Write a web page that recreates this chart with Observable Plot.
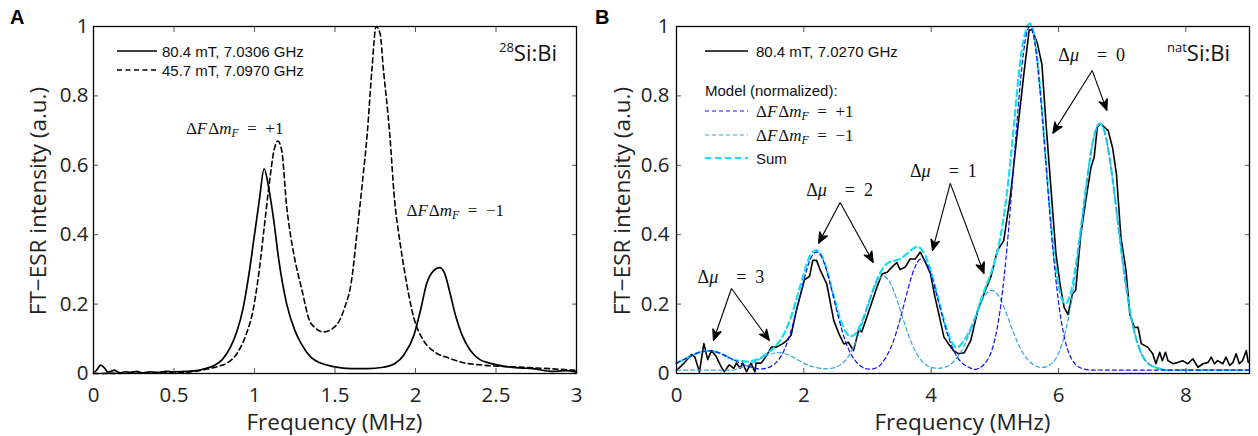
<!DOCTYPE html>
<html><head><meta charset="utf-8">
<script src="https://cdn.jsdelivr.net/npm/d3@7"></script>
<script src="https://cdn.jsdelivr.net/npm/@observablehq/plot@0.6"></script>
<style>
body{margin:0;background:#fff;}
#wrap{position:relative;width:1258px;height:436px;font-family:"Open Sans",sans-serif;}
#wrap > svg{position:absolute;top:0;overflow:visible;}
</style></head><body><div id="wrap"></div>
<script>
// ---------- Panel A data (28Si:Bi) ----------
const solidFreq = [0,0.02,0.045,0.07,0.09,0.11,0.13,0.15,0.17,0.2,0.23,0.27,0.3,0.35,0.4,0.45,0.5,0.58,0.65,0.7,0.75,0.8,0.85,0.89,0.93,0.97,1.0,1.03,1.06,1.09,1.12,1.15,1.2,1.25,1.29,1.35,1.41,1.49,1.6,1.7,1.8,1.87,1.93,1.99,2.03,2.07,2.11,2.15,2.18,2.21,2.25,2.29,2.34,2.4,2.46,2.56,2.65,2.73,2.85,2.93,3];
const solidVal  = [0,0.01,0.024,0.015,0.004,0.006,0.01,0.004,0.002,0.005,0.003,0.006,0.002,0.005,0.003,0.006,0.005,0.006,0.009,0.015,0.023,0.04,0.075,0.12,0.19,0.3,0.4,0.5,0.59,0.53,0.44,0.33,0.2,0.125,0.086,0.047,0.03,0.02,0.014,0.014,0.018,0.028,0.055,0.11,0.18,0.26,0.295,0.305,0.29,0.24,0.165,0.11,0.067,0.04,0.03,0.02,0.016,0.014,0.006,0.008,0.004];
const dashFreq = [0,0.3,0.5,0.58,0.7,0.77,0.83,0.89,0.95,0.99,1.03,1.06,1.09,1.12,1.145,1.17,1.2,1.22,1.25,1.29,1.35,1.43,1.51,1.56,1.6,1.64,1.67,1.7,1.73,1.755,1.78,1.8,1.84,1.87,1.9,1.93,1.99,2.05,2.11,2.21,2.31,2.42,2.62,2.83,3];
const dashVal  = [0,0.001,0.002,0.004,0.012,0.02,0.03,0.057,0.115,0.18,0.3,0.42,0.54,0.64,0.67,0.64,0.48,0.41,0.33,0.25,0.145,0.12,0.14,0.19,0.26,0.42,0.55,0.69,0.88,1.0,0.98,0.88,0.69,0.5,0.39,0.3,0.16,0.095,0.065,0.044,0.03,0.024,0.019,0.014,0.009];
const legendA = ["80.4 mT, 7.0306 GHz","45.7 mT, 7.0970 GHz"];
const labelsA = ["+1","\u22121"];
const labelsAx = [0.88, 2.25];
const labelsAy = [0.706, 0.47];

// ---------- Panel B data (natSi:Bi) ----------
const dataFreq = [0,0.03,0.12,0.235,0.29,0.36,0.43,0.49,0.55,0.62,0.7,0.75,0.83,0.9,0.94,1.0,1.04,1.1,1.17,1.23,1.25,1.33,1.41,1.49,1.57,1.67,1.73,1.8,1.88,2.01,2.09,2.14,2.2,
 2.26,2.36,2.47,2.55,2.63,2.7,2.78,2.86,2.91,2.99,3.07,3.15,3.23,3.31,3.38,3.46,3.51,3.59,3.67,3.75,3.83,3.91,3.99,4.06,4.12,4.2,4.27,4.35,4.43,
 4.52,4.62,4.73,4.83,4.94,5.04,5.14,5.25,5.35,5.46,5.54,5.59,5.67,5.74,5.8,5.88,5.96,6.03,6.09,6.15,6.22,6.27,6.35,6.43,6.51,6.56,6.61,6.66,
 6.78,6.85,6.91,6.98,7.06,7.12,7.19,7.25,7.3,7.4,7.48,7.53,7.59,7.63,7.68,7.72,7.8,7.87,7.95,8.03,8.11,8.19,8.27,8.35,8.4,8.45,8.5,8.58,8.63,8.69,8.74,8.79,8.84,8.89,8.95,8.98];
const dataVal = [0.01,0.014,0.03,0.055,0.047,0.004,0.086,0.04,0.066,0.05,0.02,0.005,0.025,0.015,0.03,0.015,0.03,0.005,0.03,0.005,0.03,0.03,0.05,0.076,0.076,0.086,0.095,0.11,0.18,0.27,0.28,0.326,0.326,
 0.297,0.258,0.153,0.115,0.085,0.09,0.066,0.124,0.12,0.163,0.206,0.25,0.287,0.292,0.306,0.32,0.3,0.306,0.33,0.33,0.35,0.32,0.287,0.22,0.172,0.105,0.086,0.066,0.057,
 0.06,0.094,0.18,0.23,0.28,0.354,0.383,0.52,0.69,0.87,0.99,0.99,0.95,0.89,0.73,0.537,0.345,0.25,0.19,0.17,0.23,0.24,0.4,0.5,0.594,0.623,0.71,0.72,
 0.7,0.65,0.575,0.393,0.297,0.172,0.133,0.133,0.086,0.076,0.057,0.028,0.061,0.037,0.061,0.037,0.028,0.032,0.037,0.028,0.042,0.018,0.028,0.032,0.047,0.028,0.037,0.028,0.047,0.023,0.032,0.057,0.028,0.037,0.066,0.032];

const modelFreq = [0,0.1,0.2,0.3,0.4,0.5,0.6,0.7,0.8,0.9,1.0,1.1,1.2,1.3,1.4,1.5,1.6,1.7,1.8,1.9,2.0,2.1,2.2,2.3,2.4,2.5,2.6,2.7,2.8,2.9,3.0,3.1,3.2,3.3,3.4,3.5,3.6,3.7,3.8,3.9,4.0,4.1,4.2,4.3,4.4,4.5,4.6,4.7,4.8,4.9,5.0,5.1,5.2,5.3,5.4,5.5,5.6,5.7,5.8,5.9,6.0,6.1,6.2,6.3,6.4,6.5,6.6,6.7,6.8,6.9,7.0,7.1,7.2,7.3,7.4,7.5,7.6,7.7,7.8,7.9,8.0,8.1,8.2,8.3,8.4,8.5,8.6,8.7,8.8,8.9,9.0];
const modelPlus = [0.030,0.039,0.048,0.057,0.063,0.065,0.063,0.057,0.048,0.039,0.030,0.022,0.017,0.013,0.015,
 0.022,0.039,0.071,0.124,0.194,0.268,0.328,0.350,0.328,0.268,0.194,0.124,0.071,0.039,0.020,
 0.013,0.014,0.024,0.050,0.090,0.148,0.218,0.284,0.325,0.325,0.284,0.218,0.148,0.090,0.050,
 0.028,0.017,0.012,0.021,0.044,0.098,0.206,0.381,0.611,0.837,0.980,0.980,0.837,0.611,0.381,
 0.206,0.098,0.044,0.021,0.013,
 0.010,0.010,0.010,0.010,0.010,0.010,0.010,0.010,0.010,0.010,0.010,0.010,0.010,0.010,0.010,0.010,0.010,0.010,0.010,0.010,0.010,0.010,0.010,0.010,0.010,0.010];
const modelMinus = [0.010,0.010,0.010,0.010,0.010,0.010,0.010,0.010,0.010,0.010,
 0.017,0.022,0.030,0.040,0.050,0.057,0.060,0.057,0.050,0.040,
 0.030,0.022,0.017,0.014,0.014,0.018,0.028,0.049,0.084,0.134,
 0.191,0.244,0.276,0.276,0.244,0.191,0.134,0.084,0.049,0.028,
 0.018,0.015,0.017,0.026,0.044,0.073,0.115,0.164,0.210,0.236,
 0.236,0.210,0.164,0.115,0.073,0.044,0.026,0.018,0.019,0.030,
 0.058,0.114,0.205,0.335,0.486,0.625,0.709,0.709,0.625,0.486,
 0.335,0.205,0.114,0.058,0.030,0.019,0.013,0.010,0.010,0.010,
 0.010,0.010,0.010,0.010,0.010,0.010,0.010,0.010,0.010,0.010,0.010];
const modelSum = [0.030,0.039,0.048,0.057,0.063,0.065,0.063,0.057,0.048,0.039,
 0.037,0.034,0.037,0.043,0.055,0.069,0.089,0.118,0.164,0.224,
 0.288,0.340,0.355,0.332,0.272,0.202,0.142,0.110,0.113,0.144,
 0.194,0.248,0.290,0.316,0.324,0.329,0.342,0.358,0.364,0.343,
 0.292,0.223,0.155,0.100,0.075,0.091,0.122,0.166,0.221,0.270,
 0.324,0.406,0.535,0.716,0.900,0.995,0.990,0.845,0.620,0.401,
 0.254,0.202,0.239,0.346,0.489,0.625,0.709,0.709,0.625,0.486,
 0.335,0.205,0.114,0.058,0.030,0.019,0.013,0.010,0.010,0.010,
 0.010,0.010,0.010,0.010,0.010,0.010,0.010,0.010,0.010,0.010,0.010];
const legendB = ["80.4 mT, 7.0270 GHz","Model (normalized):","+1","\u22121","Sum"];
const muLabels = ["0","1","2","3"];
const muLabelX = [6.53,4.20,2.57,0.863];
const muLabelY = [0.916,0.582,0.527,0.277];
const arrowX1 = [6.53,6.53,4.30,4.30,2.57,2.57,0.863,0.863];
const arrowY1 = [0.873,0.873,0.548,0.548,0.493,0.493,0.245,0.245];
const arrowX2 = [5.91,6.76,4.02,4.83,2.23,3.09,0.58,1.46];
const arrowY2 = [0.692,0.758,0.354,0.288,0.375,0.32,0.095,0.095];

const yTicks = [0,0.2,0.4,0.6,0.8,1];
const xTicksA = [0,0.5,1,1.5,2,2.5,3];
const xTicksB = [0,2,4,6,8];

// ---------- helpers ----------
const FONT = '"Open Sans", sans-serif';
const LEGFONT = '"Liberation Sans", Arial, sans-serif';
const SERIF = '"Liberation Serif", "DejaVu Serif", serif';
const fmt = d => String(d);
const BLUE = "#1010f0", LBLUE = "#2ea6e6", CYAN = "#10e0f0";
const rows = (xs, ys) => xs.map((x, i) => ({x, y: ys[i]}));

const headMarker = (color, context) => {
  const m = d3.create("svg:marker")
    .attr("viewBox", "-12 -6 13 12").attr("markerWidth", 13).attr("markerHeight", 12)
    .attr("markerUnits", "userSpaceOnUse").attr("orient", "auto").attr("refX", 0).attr("refY", 0);
  m.append("path").attr("d", "M-11,-4.5L0,0L-11,4.5L-8,0Z").attr("fill", "#000");
  return m.node();
};

function axes(xTicks, padY) {
  return [
    Plot.axisX({anchor: "bottom", ticks: xTicks, tickFormat: fmt, tickSize: -5, tickPadding: 19, label: null, stroke: "#555", fill: "#222"}),
    Plot.axisX({anchor: "top", ticks: xTicks, tickFormat: () => "", tickSize: -5, label: null, stroke: "#555"}),
    Plot.axisY({anchor: "left", ticks: yTicks, tickFormat: fmt, tickSize: -5, tickPadding: padY, label: null, stroke: "#555", fill: "#222"}),
    Plot.axisY({anchor: "right", ticks: yTicks, tickFormat: () => "", tickSize: -5, label: null, stroke: "#555"}),
    Plot.frame({stroke: "#000", strokeWidth: 1.3})
  ];
}
const common = {height: 436, marginTop: 26, marginBottom: 63,
  style: {fontFamily: FONT, fontSize: "20.5px", background: "transparent", overflow: "visible"},
  y: {domain: [0, 1]}};

function mathF(sel, x, y, value, size, anchor) {
  const t = sel.append("text").attr("x", x).attr("y", y).attr("text-anchor", anchor)
    .attr("dominant-baseline", "central").style("font-family", SERIF).style("font-size", size + "px").attr("fill", "#111");
  t.append("tspan").text("\u0394");
  t.append("tspan").attr("font-style", "italic").text("F");
  t.append("tspan").attr("dx", 1).text("\u0394");
  t.append("tspan").attr("font-style", "italic").text("m");
  t.append("tspan").attr("font-style", "italic").attr("font-size", (size * 0.7) + "px").attr("dy", size * 0.28).text("F");
  t.append("tspan").attr("dy", -size * 0.28).text("\u2002=\u2002" + value);
}
function mathMu(sel, x, y, value, size) {
  const t = sel.append("text").attr("x", x).attr("y", y).attr("text-anchor", "middle")
    .attr("dominant-baseline", "central").style("font-family", SERIF).style("font-size", size + "px").attr("fill", "#111");
  t.append("tspan").text("\u0394");
  t.append("tspan").attr("font-style", "italic").text("\u03bc");
  t.append("tspan").text("\u2003=\u2002" + value);
}
function plainText(sel, x, y, s, size, anchor = "start", extra = {}) {
  const t = sel.append("text").attr("x", x).attr("y", y).attr("text-anchor", anchor)
    .attr("dominant-baseline", extra.baseline || "central").style("font-family", extra.font || FONT).style("font-size", size + "px")
    .attr("fill", extra.fill || "#111").text(s);
  if (extra.weight) t.style("font-weight", extra.weight);
  if (extra.rotate) t.attr("transform", `rotate(-90 ${x} ${y})`);
  return t;
}
function isotope(sel, xEnd, yBase, sup) {
  const t = sel.append("text").attr("x", xEnd).attr("y", yBase).attr("text-anchor", "end")
    .style("font-family", FONT).attr("fill", "#111");
  t.append("tspan").style("font-size", "13px").attr("dy", -9).text(sup);
  t.append("tspan").style("font-size", "22px").attr("dy", 9).text("Si:Bi");
}

const wrap = document.getElementById("wrap");

// ---------- Panel A ----------
const plotA = Plot.plot({
  ...common, width: 580, marginLeft: 93, marginRight: 4,
  x: {domain: [0, 3]},
  marks: [
    Plot.line(rows(dashFreq, dashVal), {x: "x", y: "y", stroke: "#000", strokeWidth: 1.6, strokeDasharray: "5,3.5", curve: "monotone-x"}),
    Plot.line(rows(solidFreq, solidVal), {x: "x", y: "y", stroke: "#000", strokeWidth: 1.7, curve: "monotone-x"}),
    ...axes(xTicksA, 10)
  ]
});
plotA.style.left = "0px";
wrap.appendChild(plotA);
{
  const s = d3.select(plotA);
  const xs = plotA.scale("x"), ys = plotA.scale("y");
  plainText(s, 10, 24, "A", 20, "start", {baseline: "auto", weight: "bold", fill: "#000", font: LEGFONT});
  plainText(s, 37.5, 201, "FT\u2212ESR intensity (a.u.)", 22.5, "middle", {rotate: true, fill: "#222"});
  plainText(s, 334.5, 430, "Frequency (MHz)", 22.5, "middle", {baseline: "auto", fill: "#222"});
  s.append("line").attr("x1", 117).attr("x2", 157).attr("y1", 51).attr("y2", 51).attr("stroke", "#000").attr("stroke-width", 1.7);
  s.append("line").attr("x1", 117).attr("x2", 157).attr("y1", 70).attr("y2", 70).attr("stroke", "#000").attr("stroke-width", 1.6).attr("stroke-dasharray", "5,3.5");
  plainText(s, 162, 51, legendA[0], 15, "start", {font: LEGFONT});
  plainText(s, 162, 70, legendA[1], 15, "start", {font: LEGFONT});
  isotope(s, 557, 61, "28");
  labelsA.forEach((v, i) => mathF(s, xs.apply(labelsAx[i]), ys.apply(labelsAy[i]), v, 17, "middle"));
}

// ---------- Panel B ----------
const arrows = arrowX1.map((x1, i) => ({x1, y1: arrowY1[i], x2: arrowX2[i], y2: arrowY2[i]}));
const plotB = Plot.plot({
  ...common, width: 678, marginLeft: 96, marginRight: 9,
  x: {domain: [0, 9]},
  marks: [
    Plot.line(rows(dataFreq, dataVal), {x: "x", y: "y", stroke: "#000", strokeWidth: 1.6}),
    Plot.line(rows(modelFreq, modelSum), {x: "x", y: "y", stroke: CYAN, strokeWidth: 2.2, strokeDasharray: "6,4", curve: "natural"}),
    Plot.line(rows(modelFreq, modelMinus), {x: "x", y: "y", stroke: LBLUE, strokeWidth: 1.2, strokeDasharray: "4,3", curve: "natural"}),
    Plot.line(rows(modelFreq, modelPlus), {x: "x", y: "y", stroke: BLUE, strokeWidth: 1.2, strokeDasharray: "4,3", curve: "natural"}),
    Plot.link(arrows, {x1: "x1", y1: "y1", x2: "x2", y2: "y2", stroke: "#000", strokeWidth: 1.1, markerEnd: headMarker}),
    ...axes(xTicksB, 12)
  ]
});
plotB.style.left = "580px";
wrap.appendChild(plotB);
{
  const s = d3.select(plotB);
  const xs = plotB.scale("x"), ys = plotB.scale("y");
  plainText(s, 15, 24, "B", 20, "start", {baseline: "auto", weight: "bold", fill: "#000", font: LEGFONT});
  plainText(s, 41, 201, "FT\u2212ESR intensity (a.u.)", 22.5, "middle", {rotate: true, fill: "#222"});
  plainText(s, 382.5, 430, "Frequency (MHz)", 22.5, "middle", {baseline: "auto", fill: "#222"});
  s.append("line").attr("x1", 125).attr("x2", 168).attr("y1", 51).attr("y2", 51).attr("stroke", "#000").attr("stroke-width", 1.7);
  plainText(s, 176, 51, legendB[0], 15, "start", {font: LEGFONT});
  plainText(s, 125, 90, legendB[1], 15, "start", {font: LEGFONT});
  [[111, BLUE, 1.2, "4,3"], [135, LBLUE, 1.2, "4,3"], [158, CYAN, 2.2, "6,4"]].forEach(([y, c, w, da]) =>
    s.append("line").attr("x1", 125).attr("x2", 168).attr("y1", y).attr("y2", y).attr("stroke", c).attr("stroke-width", w).attr("stroke-dasharray", da));
  mathF(s, 176, 111, legendB[2], 17, "start");
  mathF(s, 176, 135, legendB[3], 17, "start");
  plainText(s, 176, 158, legendB[4], 15, "start", {font: LEGFONT});
  isotope(s, 650, 61, "nat");
  muLabels.forEach((v, i) => mathMu(s, xs.apply(muLabelX[i]), ys.apply(muLabelY[i]), v, 18));
}
</script></body></html>
